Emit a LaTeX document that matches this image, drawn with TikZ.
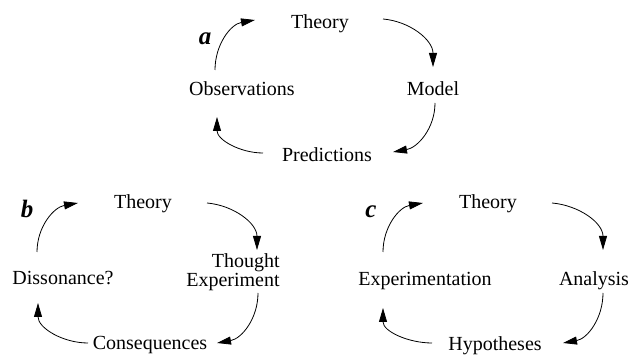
\documentclass[tikz,border=0pt]{standalone}
\usepackage{fontspec}
\setmainfont{Liberation Serif}
\usepackage{tikz}
\usetikzlibrary{arrows.meta}

\begin{document}
\begin{tikzpicture}[x=1pt, y=1pt,
    font=\fontsize{20}{23}\selectfont,
    lbl/.style={anchor=base, inner sep=0pt},
    tag/.style={anchor=base, inner sep=0pt, font=\fontsize{25}{28}\selectfont\bfseries\itshape},
    cyc/.style={-{Triangle[length=14pt, width=8pt]}, line width=0.8pt}]
  \useasboundingbox (0, 0) rectangle (638, 358);
  % a: top cycle
  \node[tag] (taga) at (205, 313) {a};
  \node[lbl] (theorya) at (320, 329) {Theory};
  \node[lbl] (obs) at (242, 262) {Observations};
  \node[lbl] (model) at (433, 262) {Model};
  \node[lbl] (pred) at (327, 196) {Predictions};
  \draw[cyc] ([xshift=-27pt, yshift=26pt]obs.base) to[out=90, in=190] ([xshift=-65pt, yshift=9pt]theorya.base);
  \draw[cyc] ([xshift=63pt, yshift=10pt]theorya.base) to[out=-5, in=90] ([yshift=29pt]model.base);
  \draw[cyc] ([xshift=2pt, yshift=-7pt]model.base) to[out=-90, in=10] ([xshift=66pt, yshift=10pt]pred.base);
  \draw[cyc] ([xshift=-64pt, yshift=9pt]pred.base) to[out=180, in=-90] ([xshift=-25pt, yshift=-21pt]obs.base);
  % b: bottom left cycle
  \node[tag] (tagb) at (27, 140) {b};
  \node[lbl] (theoryb) at (143, 149) {Theory};
  \node[inner sep=0pt, align=right, font=\fontsize{20}{19}\selectfont] (thought) at (233, 86) {Thought\\Experiment};
  \node[lbl] (diss) at (63, 73) {Dissonance?};
  \node[lbl] (cons) at (150, 8) {Consequences};
  \draw[cyc] ([xshift=-26pt, yshift=33pt]diss.base) to[out=90, in=190] ([xshift=-65pt, yshift=6pt]theoryb.base);
  \draw[cyc] ([xshift=64pt, yshift=6pt]theoryb.base) to[out=-5, in=90] ([xshift=24pt, yshift=22pt]thought.center);
  \draw[cyc] ([xshift=25pt, yshift=-21pt]thought.center) to[out=-90, in=10] ([xshift=67pt, yshift=7pt]cons.base);
  \draw[cyc] ([xshift=-62pt, yshift=7pt]cons.base) to[out=180, in=-90] ([xshift=-25pt, yshift=-18pt]diss.base);
  % c: bottom right cycle
  \node[tag] (tagc) at (371, 140) {c};
  \node[lbl] (theoryc) at (488, 149) {Theory};
  \node[lbl] (anal) at (594, 72) {Analysis};
  \node[lbl] (expt) at (425, 72) {Experimentation};
  \node[lbl] (hyp) at (495, 7) {Hypotheses};
  \draw[cyc] ([xshift=-42pt, yshift=34pt]expt.base) to[out=90, in=190] ([xshift=-65pt, yshift=6pt]theoryc.base);
  \draw[cyc] ([xshift=64pt, yshift=6pt]theoryc.base) to[out=-5, in=90] ([xshift=9pt, yshift=36pt]anal.base);
  \draw[cyc] ([xshift=9pt, yshift=-7pt]anal.base) to[out=-90, in=10] ([xshift=68pt, yshift=8pt]hyp.base);
  \draw[cyc] ([xshift=-63pt, yshift=8pt]hyp.base) to[out=180, in=-90] ([xshift=-42pt, yshift=-22pt]expt.base);
\end{tikzpicture}
\end{document}
